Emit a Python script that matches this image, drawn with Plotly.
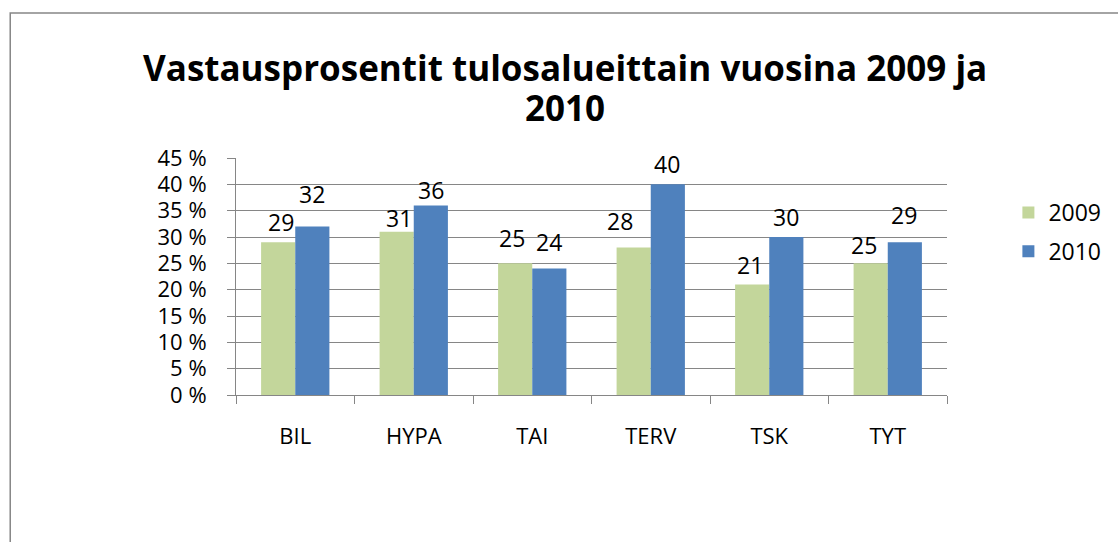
import plotly.graph_objects as go

categories = ["BIL", "HYPA", "TAI", "TERV", "TSK", "TYT"]
values_2009 = [29, 31, 25, 28, 21, 25]
values_2010 = [32, 36, 24, 40, 30, 29]
series_names = ["2009", "2010"]
title_lines = ["Vastausprosentit tulosalueittain vuosina 2009 ja", "2010"]

# label offsets (px) relative to bar top centre: (dx, dy)
offsets_2009 = [(2.5, 20), (2, 13.5), (-3.5, 25.5), (-13.5, 26.5), (-2.5, 19), (-6.5, 18.7)]
offsets_2010 = [(-0.5, 32.5), (0, 15), (-0.5, 26.5), (-1, 20.5), (-0.5, 20), (-0.5, 27)]

GREEN = "#C3D69B"
BLUE = "#4F81BD"
GRID = "#868686"
FONT = "Open Sans"

W, H = 1118, 542
L, R, T, B = 236, 954, 158, 395
plot_w = R - L
plot_h = B - T
cat_w = plot_w / len(categories)
bargap = 0.4236
bar_w = cat_w * (1 - bargap) / 2


def px_x(px):
    return (px - L) / plot_w


def px_y(py):
    return (B - py) / plot_h


fig = go.Figure()
fig.add_trace(go.Bar(x=categories, y=values_2009, name=series_names[0],
                     marker=dict(color=GREEN, line=dict(width=0)),
                     legendgroup="a"))
fig.add_trace(go.Bar(x=categories, y=values_2010, name=series_names[1],
                     marker=dict(color=BLUE, line=dict(width=0)),
                     legendgroup="b"))

annotations = []
for vals, offs, sign in ((values_2009, offsets_2009, -1), (values_2010, offsets_2010, 1)):
    for c, v, (dx, dy) in zip(categories, vals, offs):
        annotations.append(dict(
            x=c, y=v, xref="x", yref="y", text=str(v), showarrow=False,
            xanchor="center", yanchor="middle",
            xshift=sign * bar_w / 2 + dx, yshift=dy,
            font=dict(family=FONT, size=23, color="#000000")))

# title as two lines for exact line spacing
for txt, cy in zip(title_lines, (67, 107)):
    annotations.append(dict(
        x=px_x(568.5), y=px_y(cy), xref="paper", yref="paper", text="<b>%s</b>" % txt,
        showarrow=False, xanchor="center", yanchor="middle",
        font=dict(family="Open Sans", size=35, color="#000000")))

fig.update_layout(
    width=W, height=H,
    margin=dict(l=L, r=W - R, t=T, b=H - B, pad=0),
    paper_bgcolor="white", plot_bgcolor="white",
    barmode="group", bargap=bargap, bargroupgap=0,
    font=dict(family=FONT, size=22, color="#000000"),
    showlegend=True,
    legend=dict(x=px_x(1016), y=px_y(191), xanchor="left", yanchor="top",
                font=dict(family=FONT, size=23), traceorder="grouped", tracegroupgap=6,
                bgcolor="rgba(0,0,0,0)"),
    annotations=annotations,
    shapes=[dict(type="rect", xref="paper", yref="paper",
                 x0=px_x(8), x1=px_x(1130), y0=px_y(560), y1=px_y(13),
                 line=dict(color=GRID, width=1.5), layer="above")],
)
fig.update_xaxes(showline=True, linecolor=GRID, linewidth=1, ticks="outside", ticklen=8,
                 tickcolor=GRID, tickson="boundaries", showgrid=False,
                 ticklabelstandoff=22, tickfont=dict(family=FONT, size=22))
fig.update_yaxes(range=[0, 45], dtick=5, ticksuffix=" %", showgrid=True, gridcolor=GRID,
                 gridwidth=1, showline=True, linecolor=GRID, linewidth=1, ticks="outside",
                 ticklen=8, tickcolor=GRID, zeroline=False, ticklabelstandoff=16,
                 tickfont=dict(family=FONT, size=22))

fig.write_html("out.html", config={"displayModeBar": False},
               post_script="document.body.style.margin='0';")
